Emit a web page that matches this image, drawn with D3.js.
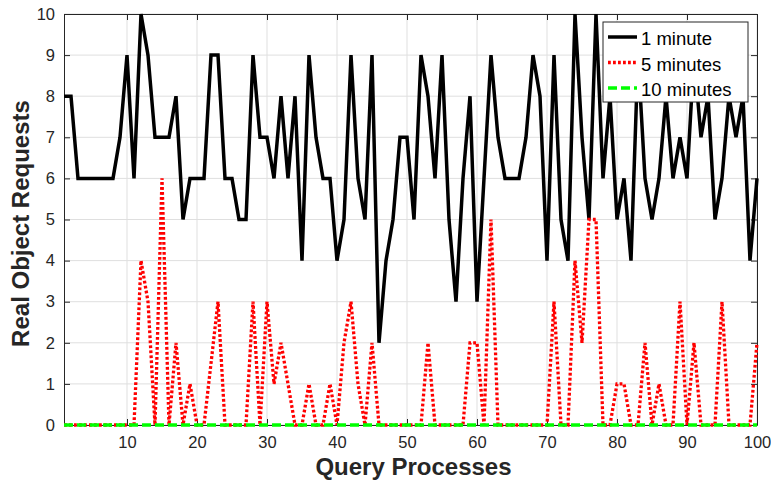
<!DOCTYPE html>
<html>
<head>
<meta charset="utf-8">
<script src="https://d3js.org/d3.v7.min.js"></script>
<style>
  body { margin: 0; background: #fff; }
  svg { font-family: "Liberation Sans", Arial, Helvetica, sans-serif; }
</style>
</head>
<body>
<div id="chart-area"></div>
<script>
// data
var oneMinute = [8,8,6,6,6,6,6,6,7,9, 6,10,9,7,7,7,8,5,6,6, 6,9,9,6,6,5,5,9,7,7,
                 6,8,6,8,4,9,7,6,6,4, 5,9,6,5,9,2,4,5,7,7, 5,9,8,6,9,5,3,6,8,3,
                 6,9,7,6,6,6,7,9,8,4, 9,5,4,10,7,5,10,6,8,5, 6,4,9,6,5,6,8,6,7,6,
                 9,7,8,5,6,8,7,8,4,6];
var fiveMinutes = [0,0,0,0,0,0,0,0,0,0, 0,4,3,0,6,0,2,0,1,0, 0,1.5,3,0,0,0,0,3,0,3,
                   1,2,1,0,0,1,0,0,1,0, 2,3,1,0,2,0,0,0,0,0, 0,0,2,0,0,0,0,0,2,2,
                   0,5,0,0,0,0,0,0,0,0, 3,0,0,4,2,5,5,0,0,1, 1,0,0,2,0,1,0,0,3,0,
                   2,0,0,0,3,0,0,0,0,2];
var tenMinutes = d3.range(100).map(function() { return 0; });
var xTicks = [10,20,30,40,50,60,70,80,90,100];
var yTicks = [0,1,2,3,4,5,6,7,8,9,10];
var seriesNames = ["1 minute", "5 minutes", "10 minutes"];

var margin = { left:64, right:14, top:14, bottom:56 };
var width = 771 - margin.left - margin.right,
    height = 481 - margin.top - margin.bottom;

var svg = d3.select("#chart-area")
    .append("svg")
        .attr("width", 771)
        .attr("height", 481);
var g = svg.append("g")
    .attr("transform", "translate(" + margin.left + ", " + margin.top + ")");

var xScale = d3.scaleLinear().domain([1, 100]).range([0, width]);
var yScale = d3.scaleLinear().domain([0, 10]).range([height, 0]);

// grid
g.append("g").selectAll("line")
    .data(xTicks)
    .enter().append("line")
        .attr("x1", function(d) { return xScale(d); })
        .attr("x2", function(d) { return xScale(d); })
        .attr("y1", 0).attr("y2", height)
        .attr("stroke", "#dfdfdf").attr("stroke-width", 1);
g.append("g").selectAll("line")
    .data(yTicks)
    .enter().append("line")
        .attr("y1", function(d) { return yScale(d); })
        .attr("y2", function(d) { return yScale(d); })
        .attr("x1", 0).attr("x2", width)
        .attr("stroke", "#dfdfdf").attr("stroke-width", 1);

// axes, ticks pointing inward
var xAxisCall = d3.axisBottom(xScale).tickValues(xTicks).tickSizeInner(-6).tickSizeOuter(0).tickPadding(11);
var yAxisCall = d3.axisLeft(yScale).tickValues(yTicks).tickSizeInner(-6).tickSizeOuter(0).tickPadding(9);
var xTopCall = d3.axisTop(xScale).tickValues(xTicks).tickSizeInner(-6).tickSizeOuter(0).tickFormat("");
var yRightCall = d3.axisRight(yScale).tickValues(yTicks).tickSizeInner(-6).tickSizeOuter(0).tickFormat("");

[
  [xAxisCall, "translate(0," + height + ")"],
  [yAxisCall, null],
  [xTopCall, null],
  [yRightCall, "translate(" + width + ",0)"]
].forEach(function(a) {
    var ax = g.append("g").call(a[0]);
    if (a[1]) ax.attr("transform", a[1]);
    ax.select(".domain").attr("stroke", "#262626").attr("stroke-width", 1);
    ax.selectAll(".tick line").attr("stroke", "#262626");
    ax.selectAll("text")
        .attr("font-size", "16.5px")
        .attr("fill", "#262626")
        .attr("font-family", "Liberation Sans, Arial, sans-serif");
});

var line = d3.line()
    .x(function(d, i) { return xScale(i + 1); })
    .y(function(d) { return yScale(d); });

g.append("path")
    .attr("d", line(oneMinute))
    .attr("fill", "none")
    .attr("stroke", "black")
    .attr("stroke-width", 3.5)
    .attr("stroke-linejoin", "miter")
    .attr("stroke-miterlimit", 4);

g.append("path")
    .attr("d", line(fiveMinutes))
    .attr("fill", "none")
    .attr("stroke", "#ff0000")
    .attr("stroke-width", 3.3)
    .attr("stroke-dasharray", "2.8,2.2");

g.append("path")
    .attr("d", line(tenMinutes))
    .attr("fill", "none")
    .attr("stroke", "#00ff00")
    .attr("stroke-width", 3.5)
    .attr("stroke-dasharray", "9,4");

// legend
var legend = g.append("g").attr("transform", "translate(" + (603 - margin.left) + "," + (22 - margin.top) + ")");
legend.append("rect")
    .attr("width", 145).attr("height", 80)
    .attr("fill", "white").attr("stroke", "#262626").attr("stroke-width", 1);
var styles = [
  { color: "black", dash: null },
  { color: "#ff0000", dash: "2.8,2.2" },
  { color: "#00ff00", dash: "9,4" }
];
seriesNames.forEach(function(name, i) {
    var yy = 15 + i * 25.5;
    legend.append("line")
        .attr("x1", 5).attr("x2", 34)
        .attr("y1", yy).attr("y2", yy)
        .attr("stroke", styles[i].color)
        .attr("stroke-width", 3.5)
        .attr("stroke-dasharray", styles[i].dash);
    legend.append("text")
        .attr("x", 38).attr("y", yy + 8)
        .attr("font-size", "18.5px")
        .attr("fill", "black")
        .text(name);
});

// axis labels
g.append("text")
    .attr("x", width / 2 + 3)
    .attr("y", height + 50)
    .attr("font-size", "24px")
    .attr("font-weight", "bold")
    .attr("fill", "#262626")
    .attr("text-anchor", "middle")
    .text("Query Processes");

g.append("text")
    .attr("x", -(height / 2) - 4)
    .attr("y", -35.5)
    .attr("font-size", "24px")
    .attr("font-weight", "bold")
    .attr("fill", "#262626")
    .attr("text-anchor", "middle")
    .attr("transform", "rotate(-90)")
    .text("Real Object Requests");
</script>
</body>
</html>
